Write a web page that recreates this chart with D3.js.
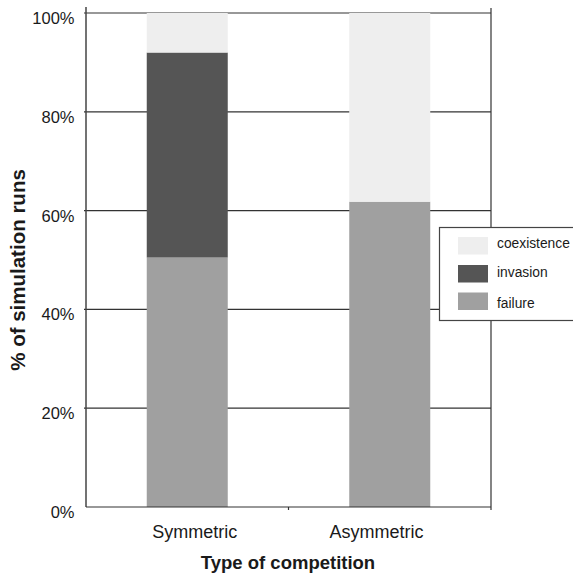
<!DOCTYPE html>
<html><head><meta charset="utf-8">
<script src="https://cdn.jsdelivr.net/npm/d3@7"></script>
<style>body{margin:0;background:#fff;} text{font-family:"Liberation Sans",Arial,sans-serif;}</style>
</head><body>
<svg id="c" width="573" height="575"></svg>
<script>
const categories = ["Symmetric", "Asymmetric"];
const failure = [50.5, 61.8];
const invasion = [41.5, 0];
const coexistence = [8.0, 38.2];
const seriesNames = ["failure", "invasion", "coexistence"];
const yTicks = [0, 20, 40, 60, 80, 100];
const colors = {failure: "#a0a0a0", invasion: "#555555", coexistence: "#eeeeee"};

const rows = categories.map((c, i) => ({cat: c, failure: failure[i], invasion: invasion[i], coexistence: coexistence[i]}));
const svg = d3.select("#c");
const L = 86, R = 491, T = 13, B = 507;
const x = d3.scaleBand().domain(categories).range([L, R]).paddingInner(0.6).paddingOuter(0.3);
const xLabel = d3.scalePoint().domain(categories).range([194.7, 376.5]);
const y = d3.scaleLinear().domain([0, 100]).range([B, T]);

// grid
svg.append("g").selectAll("line").data(yTicks.filter(d => d > 0)).join("line")
  .attr("x1", L - 2).attr("x2", R).attr("y1", d => y(d)).attr("y2", d => y(d))
  .attr("stroke", "#333").attr("stroke-width", 1.2);

const stack = d3.stack().keys(seriesNames)(rows);
svg.append("g").selectAll("g").data(stack).join("g")
  .attr("fill", d => colors[d.key])
  .selectAll("rect").data(d => d).join("rect")
  .attr("x", d => x(d.data.cat)).attr("width", x.bandwidth())
  .attr("y", d => y(d[1])).attr("height", d => y(d[0]) - y(d[1]));

// axes lines
svg.append("line").attr("x1", L).attr("x2", L).attr("y1", 7).attr("y2", B).attr("stroke", "#444").attr("stroke-width", 1.5);
svg.append("line").attr("x1", R).attr("x2", R).attr("y1", 8).attr("y2", B + 3).attr("stroke", "#333").attr("stroke-width", 1.2);
svg.append("line").attr("x1", L).attr("x2", R).attr("y1", B).attr("y2", B).attr("stroke", "#333").attr("stroke-width", 1.2);
svg.append("line").attr("x1", (L + R) / 2).attr("x2", (L + R) / 2).attr("y1", B).attr("y2", B + 3).attr("stroke", "#333").attr("stroke-width", 1.2);

// y tick labels
svg.append("g").selectAll("text").data(yTicks).join("text")
  .attr("x", 74.5).attr("y", d => y(d) + 11).attr("text-anchor", "end")
  .attr("font-size", 16.5).attr("fill", "#1a1a1a").text(d => d + "%");

// x labels
svg.append("g").selectAll("text").data(categories).join("text")
  .attr("x", d => xLabel(d)).attr("y", 538).attr("text-anchor", "middle")
  .attr("font-size", 18).attr("fill", "#1a1a1a").text(d => d);

svg.append("text").attr("x", 288).attr("y", 569).attr("text-anchor", "middle")
  .attr("font-size", 18.5).attr("font-weight", "bold").attr("fill", "#1a1a1a").text("Type of competition");
svg.append("text").attr("transform", "translate(25,270) rotate(-90)").attr("text-anchor", "middle")
  .attr("font-size", 20.5).attr("font-weight", "bold").attr("fill", "#1a1a1a").text("% of simulation runs");

// legend
const lg = svg.append("g");
lg.append("rect").attr("x", 439.5).attr("y", 227.5).attr("width", 140).attr("height", 93)
  .attr("fill", "#fff").attr("stroke", "#444").attr("stroke-width", 1.2);
const legItems = ["coexistence", "invasion", "failure"];
const swatchY = [237, 265, 292.5];
const textY = [248, 277, 308];
lg.selectAll("g.it").data(legItems).join("g").attr("class", "it")
  .each(function(d, i) {
    const g = d3.select(this);
    g.append("rect").attr("x", 458).attr("y", swatchY[i]).attr("width", 30).attr("height", 17.5).attr("fill", colors[d]);
    g.append("text").attr("x", 497).attr("y", textY[i]).attr("font-size", 13.8).attr("fill", "#1a1a1a").text(d);
  });
</script>
</body></html>
